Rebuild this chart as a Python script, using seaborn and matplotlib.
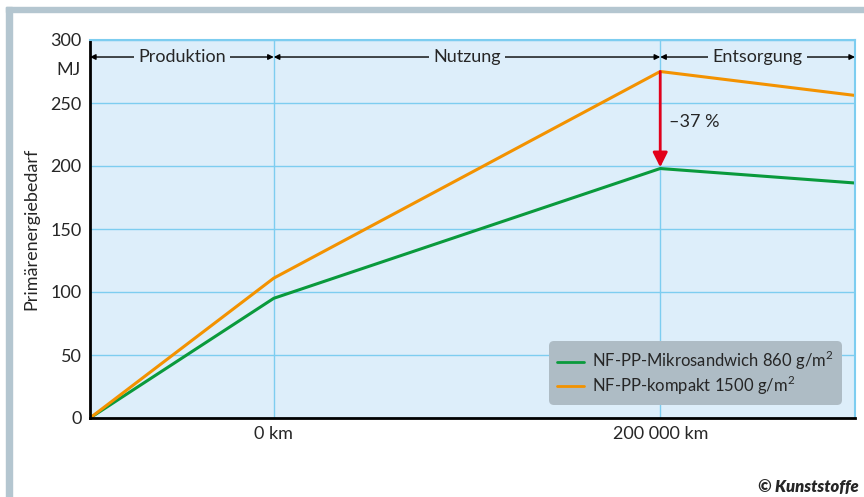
import numpy as np
import pandas as pd
import matplotlib
matplotlib.use('Agg')
import matplotlib.pyplot as plt
import seaborn as sns

# Daten
stufen = ['Start', '0 km', '200 000 km', 'Ende']
x_pos = [0.0, 1.0, 3.103, 4.163]
kompakt = [0, 111, 275, 256]
sandwich = [0, 95, 198, 186.5]
namen = ['NF-PP-Mikrosandwich 860 g/m$^2$', 'NF-PP-kompakt 1500 g/m$^2$']
farben = ['#0a9a3c', '#f39200']
phasen = ['Produktion', 'Nutzung', 'Entsorgung']
y_ticks = [0, 50, 100, 150, 200, 250, 300]

df = pd.DataFrame({
    'x': x_pos * 2,
    'MJ': sandwich + kompakt,
    'Variante': [namen[0]] * 4 + [namen[1]] * 4,
})

sns.set_style('white')
plt.rcParams['font.family'] = ['Lato', 'DejaVu Sans']
plt.rcParams['mathtext.fontset'] = 'custom'
plt.rcParams['mathtext.rm'] = 'Lato'
fs = 13

fig = plt.figure(figsize=(8.64, 4.97), dpi=100)
# grauer Rahmen links und oben
fig.patches.append(plt.Rectangle((6/864, 0), 6/864, 1 - 7/497, transform=fig.transFigure,
                                 color='#b4c6d0', zorder=0))
fig.patches.append(plt.Rectangle((6/864, 1 - 12/497), 1, 5/497, transform=fig.transFigure,
                                 color='#b4c6d0', zorder=0))

ax = fig.add_axes([90/864, 1 - 418/497, (855 - 90)/864, (418 - 40)/497])
ax.set_facecolor('#ddeefa')

sns.lineplot(data=df, x='x', y='MJ', hue='Variante', palette=farben, linewidth=2.2, ax=ax)

ax.set_xlim(x_pos[0], x_pos[-1])
ax.set_ylim(0, 300)
ax.set_yticks(y_ticks)
ax.set_yticklabels([str(v) for v in y_ticks], fontsize=fs)
ax.set_xticks(x_pos[1:3])
ax.set_xticklabels(stufen[1:3], fontsize=fs)
ax.tick_params(length=0, pad=6)
ax.grid(True, color='#7dcdf0', linewidth=1)
ax.set_axisbelow(True)
ax.set_xlabel('')
ax.set_ylabel('Primärenergiebedarf', fontsize=fs, labelpad=8)

for s in ['left', 'bottom']:
    ax.spines[s].set_color('black')
    ax.spines[s].set_linewidth(2)
for s in ['top', 'right']:
    ax.spines[s].set_color('#7dcdf0')
    ax.spines[s].set_linewidth(1.5)

# MJ als Einheit zwischen 250 und 300
ax.text(-0.012, 276, 'MJ', transform=ax.get_yaxis_transform(), ha='right', va='center', fontsize=fs)

# Phasen-Pfeile oben
y_pf = 286.5
grenzen = [x_pos[0], x_pos[1], x_pos[2], x_pos[3]]
for i, name in enumerate(phasen):
    a, b = grenzen[i], grenzen[i + 1]
    ax.annotate('', xy=(a, y_pf), xytext=(b, y_pf),
                arrowprops=dict(arrowstyle='<|-|>', color='black', lw=1, mutation_scale=8,
                                shrinkA=0, shrinkB=0))
    ax.text((a + b) / 2, y_pf, name, ha='center', va='center', fontsize=fs,
            bbox=dict(facecolor='#ddeefa', edgecolor='none', pad=3))

# roter Pfeil -37 %
ax.annotate('', xy=(x_pos[2], sandwich[2] + 1), xytext=(x_pos[2], kompakt[2]),
            arrowprops=dict(arrowstyle='-|>', color='#e2001a', lw=2, mutation_scale=22,
                            shrinkA=0, shrinkB=0))
ax.text(x_pos[2] + 0.05, 235, '–37 %', ha='left', va='center', fontsize=fs)

leg = ax.legend(loc='lower right', fontsize=12, frameon=True, facecolor='#aebcc5',
                edgecolor='none', framealpha=1, handlelength=1.6, handletextpad=0.5,
                borderpad=0.3, labelspacing=0.1, bbox_to_anchor=(0.99, 0.02))
leg.get_frame().set_boxstyle('round,pad=0.2,rounding_size=0.3')
for l in leg.get_lines():
    l.set_linewidth(2)

fig.text(859/864, 1 - 487/497, '© Kunststoffe', ha='right', va='center', fontsize=12,
         fontweight='heavy', fontstyle='italic')

fig.savefig('out.png', dpi=100)
